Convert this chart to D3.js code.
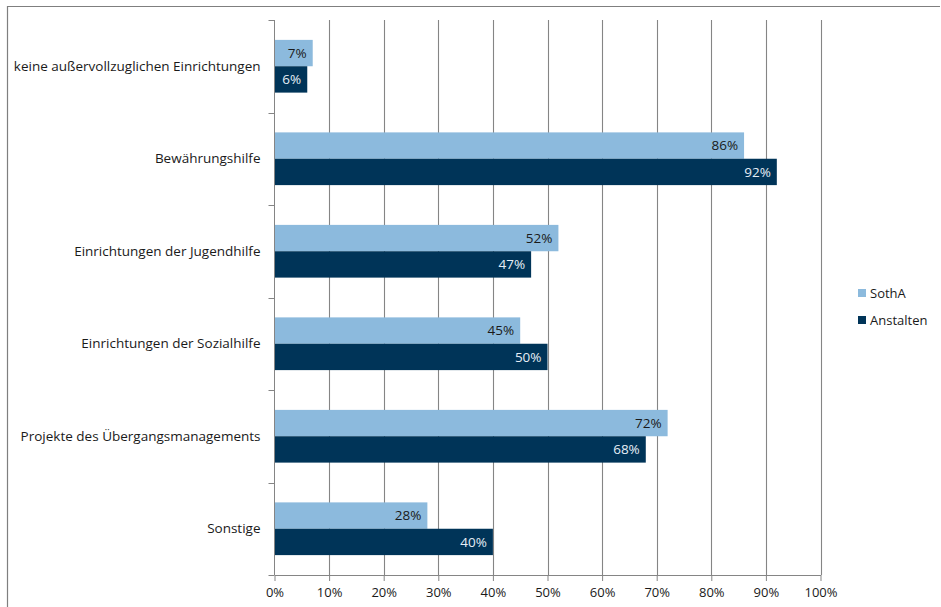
<!DOCTYPE html>
<html><head><meta charset="utf-8">
<script src="https://cdn.jsdelivr.net/npm/d3@7"></script>
<style>
html,body{margin:0;padding:0;background:#fff;}
text{font-family:"Open Sans","Noto Sans",sans-serif;}
</style></head>
<body>
<svg id="chart" width="941" height="607"></svg>
<script>
const categories = ["keine außervollzuglichen Einrichtungen","Bewährungshilfe","Einrichtungen der Jugendhilfe","Einrichtungen der Sozialhilfe","Projekte des Übergangsmanagements","Sonstige"];
const seriesNames = ["SothA","Anstalten"];
const sothA = [7,86,52,45,72,28];
const anstalten = [6,92,47,50,68,40];
const xTicks = [0,10,20,30,40,50,60,70,80,90,100];
const colors = ["#8cbadd","#003458"];
const labelColors = ["#1a1a1a","#e6eef6"];

const svg = d3.select("#chart");
// outer frame
svg.append("line").attr("x1",7).attr("x2",940).attr("y1",6.5).attr("y2",6.5).attr("stroke","#7f7f7f").attr("stroke-width",1.2);
svg.append("line").attr("x1",7.5).attr("x2",7.5).attr("y1",6).attr("y2",607).attr("stroke","#7f7f7f").attr("stroke-width",1.2);

const x = d3.scaleLinear().domain([0,100]).range([274.5,820.5]);
const y = d3.scaleBand().domain(categories).range([20,575]).paddingInner(0.43).paddingOuter(0.215);
const ySub = d3.scaleBand().domain(seriesNames).range([0,y.bandwidth()]);

// gridlines
svg.append("g").selectAll("line").data(xTicks.slice(1)).join("line")
  .attr("x1",d=>Math.round(x(d))+0.5).attr("x2",d=>Math.round(x(d))+0.5)
  .attr("y1",20).attr("y2",575).attr("stroke","#858585").attr("stroke-width",1.1);

// bars
const data = categories.map((c,i)=>({cat:c, vals:[sothA[i],anstalten[i]]}));
const g = svg.append("g");
data.forEach(d=>{
  d.vals.forEach((v,j)=>{
    const yy = y(d.cat)+ySub(seriesNames[j]);
    g.append("rect").attr("x",x(0)).attr("y",yy).attr("width",x(v)-x(0)).attr("height",ySub.bandwidth())
      .attr("fill",colors[j]);
    g.append("text").attr("x",x(v)-6).attr("y",yy+ySub.bandwidth()/2).attr("dy","0.35em")
      .attr("text-anchor","end").attr("font-size",13.5).attr("fill",labelColors[j]).text(v+"%");
  });
});

// y axis
const yAxis = d3.axisLeft(y).tickSize(0).tickPadding(14);
const ya = svg.append("g").attr("transform",`translate(${x(0)},0)`).call(yAxis);
ya.select(".domain").attr("stroke","#858585").attr("d","M0,20V575");
ya.selectAll("text").attr("font-size",13.5).attr("fill","#1a1a1a").style("font-family",'"Open Sans","Noto Sans",sans-serif');
// category separator ticks
const sep = d3.range(categories.length+1).map(i=>20+i*(555/categories.length));
svg.append("g").selectAll("line").data(sep).join("line")
  .attr("x1",x(0)-6).attr("x2",x(0)).attr("y1",d=>Math.round(d)+0.5).attr("y2",d=>Math.round(d)+0.5)
  .attr("stroke","#858585");

// x axis
const xAxis = d3.axisBottom(x).tickValues(xTicks).tickFormat(d=>d+"%").tickSize(6).tickSizeOuter(0).tickPadding(7);
const xa = svg.append("g").attr("transform","translate(0,575)").call(xAxis);
xa.select(".domain").attr("stroke","#858585");
xa.selectAll(".tick line").attr("stroke","#858585");
xa.selectAll("text").attr("font-size",13).attr("fill","#1a1a1a").style("font-family",'"Open Sans","Noto Sans",sans-serif');

// legend
const lg = svg.append("g").attr("transform","translate(858,289)");
seriesNames.forEach((s,i)=>{
  lg.append("rect").attr("x",0).attr("y",i*27).attr("width",8).attr("height",8).attr("fill",colors[i]);
  lg.append("text").attr("x",12).attr("y",i*27+4).attr("dy","0.35em").attr("font-size",13).attr("fill","#1a1a1a").text(s);
});
</script>
</body></html>
